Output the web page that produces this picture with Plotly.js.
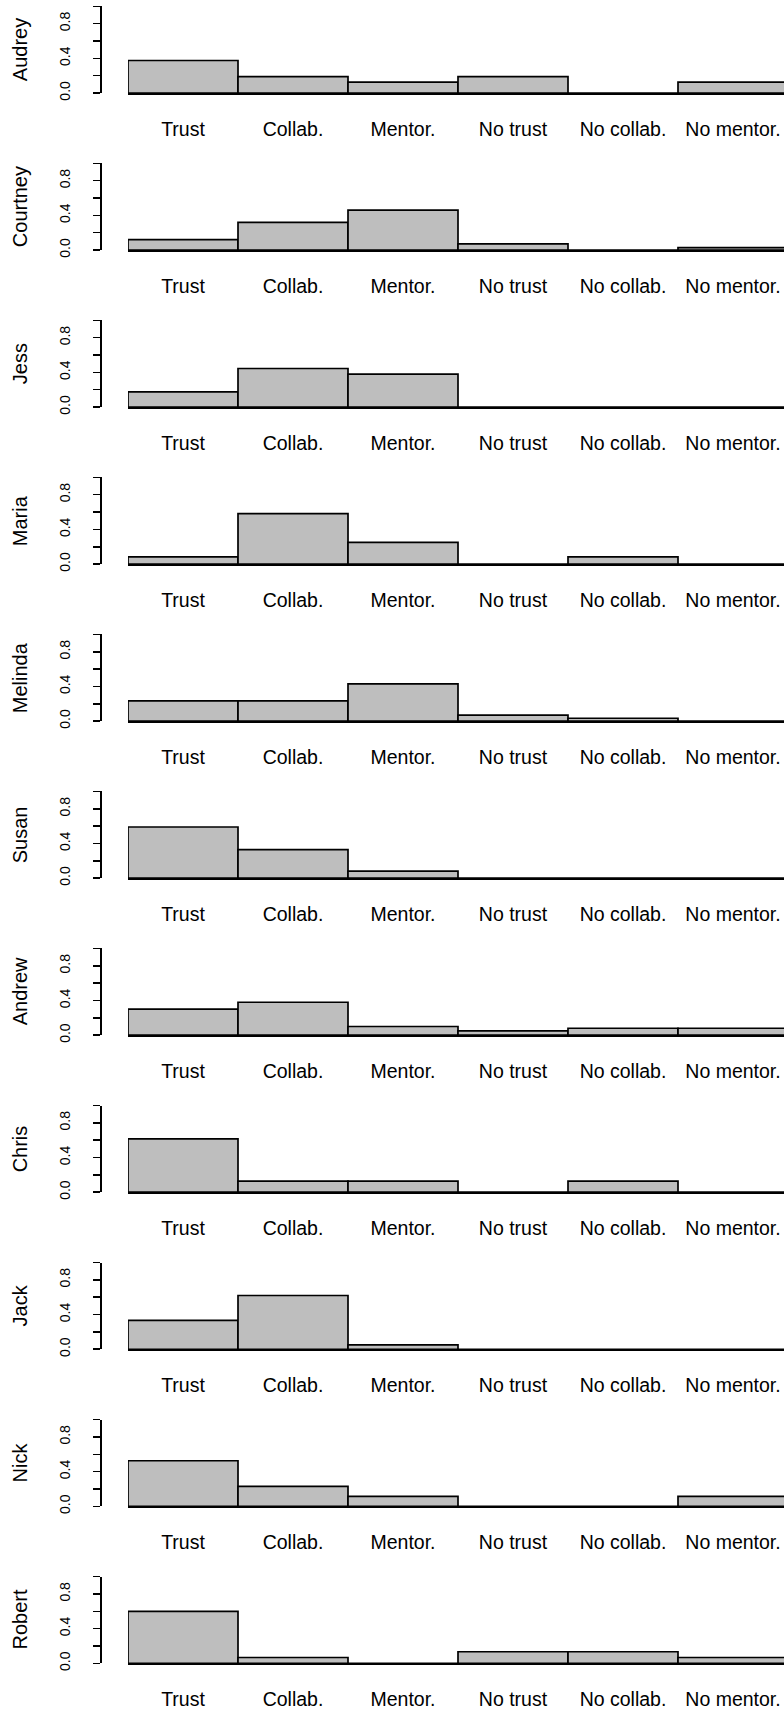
<!DOCTYPE html>
<html>
<head>
<meta charset="utf-8">
<script src="https://cdn.plot.ly/plotly-3.0.1.min.js"></script>
<style>html,body{margin:0;padding:0;background:#fff;}#chart{width:784px;height:1709px;}</style>
</head>
<body>
<div id="chart"></div>
<script>
// ---- data ----
const categories = ['Trust', 'Collab.', 'Mentor.', 'No trust', 'No collab.', 'No mentor.'];
const people = ['Audrey', 'Courtney', 'Jess', 'Maria', 'Melinda', 'Susan', 'Andrew', 'Chris', 'Jack', 'Nick', 'Robert'];

const audrey   = [0.375, 0.19, 0.125, 0.19, 0, 0.125];
const courtney = [0.12, 0.32, 0.46, 0.07, 0, 0.027];
const jess     = [0.175, 0.445, 0.38, 0, 0, 0];
const maria    = [0.083, 0.583, 0.25, 0, 0.083, 0];
const melinda  = [0.233, 0.233, 0.43, 0.07, 0.033, 0];
const susan    = [0.59, 0.33, 0.08, 0, 0, 0];
const andrew   = [0.3, 0.38, 0.1, 0.05, 0.08, 0.08];
const chris    = [0.615, 0.127, 0.127, 0, 0.127, 0];
const jack     = [0.333, 0.62, 0.05, 0, 0, 0];
const nick     = [0.525, 0.23, 0.113, 0, 0, 0.113];
const robert   = [0.6, 0.067, 0, 0.133, 0.133, 0.067];

const yTickVals = [0, 0.2, 0.4, 0.6, 0.8, 1.0];
const yTickText = ['0.0', '', '0.4', '', '0.8', ''];

// ---- layout helpers ----
const seriesList = [audrey, courtney, jess, maria, melinda, susan, andrew, chris, jack, nick, robert];
const W = 784, H = 1709;
const firstZero = 93, pitch = 157.03, axisLen = 86.7;
const barStart = 128, barPx = 110, yAxisX = 100;
const font = 'Liberation Sans, Arial, Helvetica, sans-serif';

const traces = [];
const layout = {
  width: W, height: H,
  margin: {l: 0, r: 0, t: 0, b: 0},
  paper_bgcolor: '#ffffff', plot_bgcolor: '#ffffff',
  showlegend: false, bargap: 0,
  font: {family: font, color: '#000'},
  annotations: []
};

people.forEach((name, i) => {
  const k = i + 1;
  const xa = 'x' + (k === 1 ? '' : k), ya = 'y' + (k === 1 ? '' : k);
  const xKey = 'xaxis' + (k === 1 ? '' : k), yKey = 'yaxis' + (k === 1 ? '' : k);
  const zeroPx = firstZero + pitch * i;
  const topPx = zeroPx - axisLen;
  const dom = [1 - zeroPx / H, 1 - topPx / H];

  traces.push({
    type: 'bar', x: categories, y: seriesList[i], xaxis: xa, yaxis: ya,
    marker: {color: '#bebebe', line: {color: '#000', width: 1.7}},
    width: 1, hoverinfo: 'x+y'
  });

  layout[xKey] = {
    domain: [barStart / W, 1], anchor: ya,
    type: 'category',
    range: [-0.5, (W - barStart) / barPx - 0.5],
    showline: true, linecolor: '#000', linewidth: 1.5,
    showgrid: false, zeroline: false, ticks: '',
    ticklabelstandoff: 18,
    tickfont: {size: 19.5, family: font, color: '#000'},
    fixedrange: true
  };
  layout[yKey] = {
    domain: dom, anchor: 'free', position: yAxisX / W,
    range: [0, 1],
    tickvals: yTickVals, ticktext: yTickText,
    ticks: 'outside', ticklen: 7, tickwidth: 1.5, tickcolor: '#000',
    tickangle: -90,
    ticklabelstandoff: 17,
    showline: true, linecolor: '#000', linewidth: 1.7,
    showgrid: false, zeroline: false,
    tickfont: {size: 14, family: font, color: '#000'},
    fixedrange: true
  };
  layout.annotations.push({
    text: name, xref: 'paper', yref: 'paper',
    x: 19.5 / W, y: (dom[0] + dom[1]) / 2,
    xanchor: 'center', yanchor: 'middle', textangle: -90,
    showarrow: false, font: {size: 20, family: font, color: '#000'}
  });
});

Plotly.newPlot('chart', traces, layout, {staticPlot: true, displayModeBar: false});
</script>
</body>
</html>
